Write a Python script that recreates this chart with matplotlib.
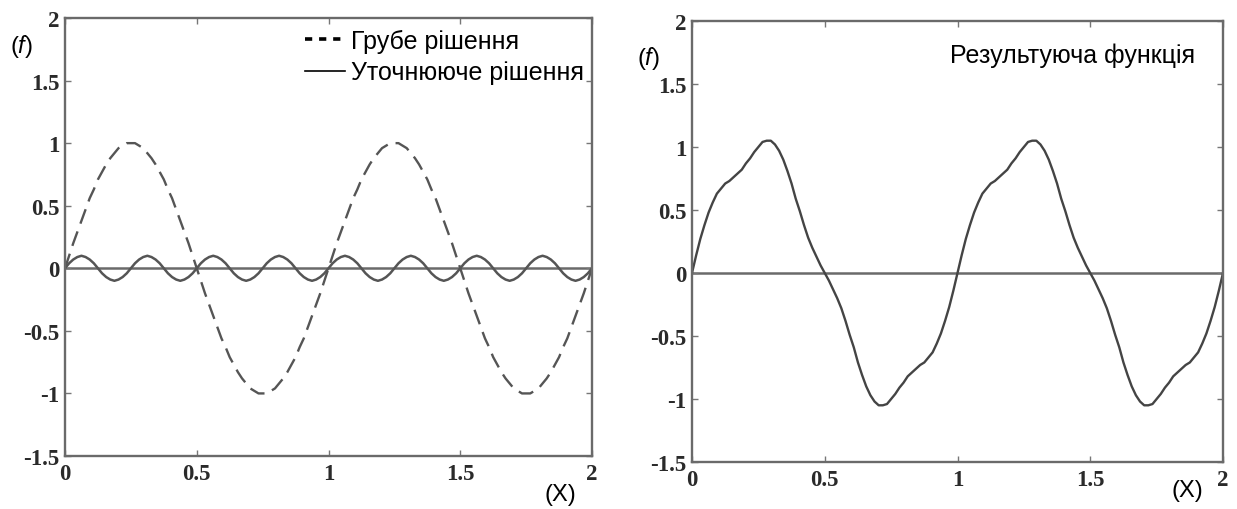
import numpy as np
import matplotlib
matplotlib.use("Agg")
import matplotlib.pyplot as plt
from matplotlib.lines import Line2D

coarse = [
    0.00, 0.10, 0.20, 0.29, 0.38, 0.47, 0.56, 0.63, 0.71, 0.77, 0.83, 0.88, 0.92, 0.96, 0.98, 1.00,
    1.00, 1.00, 0.98, 0.96, 0.92, 0.88, 0.83, 0.77, 0.71, 0.63, 0.56, 0.47, 0.38, 0.29, 0.20, 0.10,
    0.00, -0.10, -0.20, -0.29, -0.38, -0.47, -0.56, -0.63, -0.71, -0.77, -0.83, -0.88, -0.92, -0.96, -0.98, -1.00,
    -1.00, -1.00, -0.98, -0.96, -0.92, -0.88, -0.83, -0.77, -0.71, -0.63, -0.56, -0.47, -0.38, -0.29, -0.20, -0.10,
    0.00, 0.10, 0.20, 0.29, 0.38, 0.47, 0.56, 0.63, 0.71, 0.77, 0.83, 0.88, 0.92, 0.96, 0.98, 1.00,
    1.00, 1.00, 0.98, 0.96, 0.92, 0.88, 0.83, 0.77, 0.71, 0.63, 0.56, 0.47, 0.38, 0.29, 0.20, 0.10,
    0.00, -0.10, -0.20, -0.29, -0.38, -0.47, -0.56, -0.63, -0.71, -0.77, -0.83, -0.88, -0.92, -0.96, -0.98, -1.00,
    -1.00, -1.00, -0.98, -0.96, -0.92, -0.88, -0.83, -0.77, -0.71, -0.63, -0.56, -0.47, -0.38, -0.29, -0.20, -0.10,
    0.00,
]

fine = [
    0.00, 0.04, 0.07, 0.09, 0.10, 0.09, 0.07, 0.04, 0.00, -0.04, -0.07, -0.09, -0.10, -0.09, -0.07, -0.04,
    0.00, 0.04, 0.07, 0.09, 0.10, 0.09, 0.07, 0.04, 0.00, -0.04, -0.07, -0.09, -0.10, -0.09, -0.07, -0.04,
    0.00, 0.04, 0.07, 0.09, 0.10, 0.09, 0.07, 0.04, 0.00, -0.04, -0.07, -0.09, -0.10, -0.09, -0.07, -0.04,
    0.00, 0.04, 0.07, 0.09, 0.10, 0.09, 0.07, 0.04, 0.00, -0.04, -0.07, -0.09, -0.10, -0.09, -0.07, -0.04,
    0.00, 0.04, 0.07, 0.09, 0.10, 0.09, 0.07, 0.04, 0.00, -0.04, -0.07, -0.09, -0.10, -0.09, -0.07, -0.04,
    0.00, 0.04, 0.07, 0.09, 0.10, 0.09, 0.07, 0.04, 0.00, -0.04, -0.07, -0.09, -0.10, -0.09, -0.07, -0.04,
    0.00, 0.04, 0.07, 0.09, 0.10, 0.09, 0.07, 0.04, 0.00, -0.04, -0.07, -0.09, -0.10, -0.09, -0.07, -0.04,
    0.00, 0.04, 0.07, 0.09, 0.10, 0.09, 0.07, 0.04, 0.00, -0.04, -0.07, -0.09, -0.10, -0.09, -0.07, -0.04,
    0.00,
]

result = [
    0.00, 0.14, 0.27, 0.38, 0.48, 0.56, 0.63, 0.67, 0.71, 0.73, 0.76, 0.79, 0.82, 0.87, 0.91, 0.96,
    1.00, 1.04, 1.05, 1.05, 1.02, 0.97, 0.90, 0.81, 0.71, 0.59, 0.49, 0.38, 0.28, 0.20, 0.13, 0.06,
    0.00, -0.06, -0.13, -0.20, -0.28, -0.38, -0.49, -0.59, -0.71, -0.81, -0.90, -0.97, -1.02, -1.05, -1.05, -1.04,
    -1.00, -0.96, -0.91, -0.87, -0.82, -0.79, -0.76, -0.73, -0.71, -0.67, -0.63, -0.56, -0.48, -0.38, -0.27, -0.14,
    0.00, 0.14, 0.27, 0.38, 0.48, 0.56, 0.63, 0.67, 0.71, 0.73, 0.76, 0.79, 0.82, 0.87, 0.91, 0.96,
    1.00, 1.04, 1.05, 1.05, 1.02, 0.97, 0.90, 0.81, 0.71, 0.59, 0.49, 0.38, 0.28, 0.20, 0.13, 0.06,
    0.00, -0.06, -0.13, -0.20, -0.28, -0.38, -0.49, -0.59, -0.71, -0.81, -0.90, -0.97, -1.02, -1.05, -1.05, -1.04,
    -1.00, -0.96, -0.91, -0.87, -0.82, -0.79, -0.76, -0.73, -0.71, -0.67, -0.63, -0.56, -0.48, -0.38, -0.27, -0.14,
    0.00,
]

x_ticks = [0, 0.5, 1, 1.5, 2]
x_labels = ["0", "0.5", "1", "1.5", "2"]
y_ticks = [-1.5, -1, -0.5, 0, 0.5, 1, 1.5, 2]
y_labels = ["-1.5", "-1", "-0.5", "0", "0.5", "1", "1.5", "2"]

legend_labels = ["Грубе рішення", "Уточнююче рішення"]
result_label = "Результуюча функція"

plt.rcParams["font.family"] = ["Liberation Sans", "DejaVu Sans"]
plt.rcParams["mathtext.fontset"] = "custom"
plt.rcParams["mathtext.rm"] = "Liberation Sans"
plt.rcParams["mathtext.it"] = "Liberation Sans:italic"

x = np.linspace(0, 2, len(coarse))

fig = plt.figure(figsize=(12.37, 5.10), dpi=100)
ax1 = fig.add_axes([65 / 1237, 53 / 510, 527 / 1237, 438 / 510])
ax2 = fig.add_axes([692 / 1237, 47 / 510, 531 / 1237, 441 / 510])

curve_col = "#555555"


def style_axes(ax):
    ax.set_xlim(0, 2)
    ax.set_ylim(-1.5, 2)
    ax.set_xticks(x_ticks)
    ax.set_xticklabels(x_labels)
    ax.set_yticks(y_ticks)
    ax.set_yticklabels(y_labels)
    ax.tick_params(direction="in", top=True, right=True, length=4, width=1,
                   color="#777777", labelcolor="#2a2a2a")
    ax.tick_params(axis="x", pad=5)
    ax.tick_params(axis="y", pad=4)
    for lab in ax.get_xticklabels() + ax.get_yticklabels():
        lab.set_fontfamily("Liberation Serif")
        lab.set_fontweight("bold")
        lab.set_fontsize(16.5)
    for sp in ax.spines.values():
        sp.set_color("#6a6a6a")
        sp.set_linewidth(1.7)
    ax.axhline(0, color="#6a6a6a", lw=1.8, zorder=1)


style_axes(ax1)
style_axes(ax2)

ax1.plot(x, coarse, color=curve_col, lw=1.7, dashes=(6.5, 3.5), zorder=2)
ax1.plot(x, fine, color=curve_col, lw=1.8, zorder=2)

handles = [Line2D([], [], color="black", lw=2.6, dashes=(2.0, 1.9)),
           Line2D([], [], color="black", lw=1.2)]
ax1.legend(handles, legend_labels, loc="upper right", bbox_to_anchor=(0.985, 0.975),
           frameon=False, fontsize=18, handlelength=1.6, handletextpad=0.25,
           labelspacing=0.3, borderpad=0.0, borderaxespad=0.0)

ax2.plot(x, result, color="#444444", lw=1.7, zorder=2)
ax2.text(0.947, 0.923, result_label, transform=ax2.transAxes, ha="right", va="center",
         fontsize=18, color="black")

fig.text(21 / 1237, 1 - 47 / 510, r"($\mathit{f}$)", fontsize=17, ha="center", va="center")
fig.text(648 / 1237, 1 - 58 / 510, r"($\mathit{f}$)", fontsize=17, ha="center", va="center")
fig.text(560 / 1237, 1 - 495 / 510, "(X)", fontsize=17, ha="center", va="center")
fig.text(1187 / 1237, 1 - 491 / 510, "(X)", fontsize=17, ha="center", va="center")

fig.savefig("out.png", dpi=100, facecolor="white")
